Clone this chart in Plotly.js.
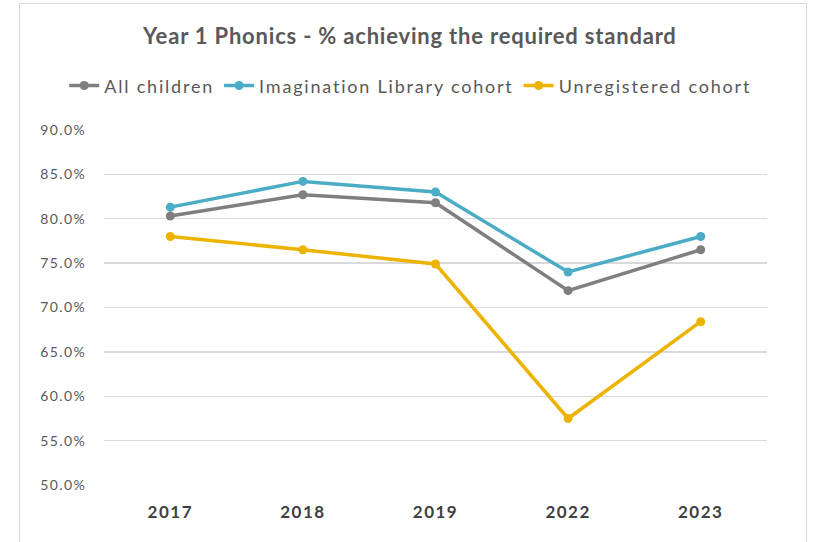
<!DOCTYPE html>
<html>
<head>
<meta charset="utf-8">
<script src="https://cdn.plot.ly/plotly-3.0.1.min.js"></script>
<style>
  html, body { margin: 0; padding: 0; background: #ffffff; overflow: hidden; }
  #chart { position: absolute; left: 19px; top: 3px; width: 786px; height: 545px;
           border: 1px solid #d9d9d9; }
  .legendtext { letter-spacing: 1.8px; }
  .ytick text { letter-spacing: 1.4px; }
  .xtick text { letter-spacing: 1.5px; }
  .gtitle { letter-spacing: 0.8px; }
</style>
</head>
<body>
<div id="chart"></div>
<script>
const years = ['2017', '2018', '2019', '2022', '2023'];
const allChildren = [80.3, 82.7, 81.8, 71.9, 76.5];
const imaginationLibrary = [81.3, 84.2, 83.0, 74.0, 78.0];
const unregistered = [78.0, 76.5, 74.9, 57.5, 68.4];
const yTicks = [50, 55, 60, 65, 70, 75, 80, 85, 90];

const FONT = 'Lato, Calibri, "Open Sans", sans-serif';

function series(name, y, color) {
  return {
    type: 'scatter', mode: 'lines+markers', name: name,
    x: years, y: y,
    line: { color: color, width: 3.5 },
    marker: { color: color, size: 9, symbol: 'circle' },
    hoverinfo: 'skip'
  };
}

const data = [
  series('All children', allChildren, '#7f7f7f'),
  series('Imagination Library cohort', imaginationLibrary, '#4bacc6'),
  series('Unregistered cohort', unregistered, '#ecb400')
];

const layout = {
  width: 786, height: 545,
  margin: { l: 84, r: 39, t: 124.6, b: 62.6, autoexpand: false },
  paper_bgcolor: '#ffffff', plot_bgcolor: '#ffffff',
  font: { family: FONT, color: '#595959' },
  title: {
    text: '<b>Year 1 Phonics - % achieving the required standard</b>',
    font: { family: FONT, size: 22, color: '#595959' },
    x: 0.496, xanchor: 'center', xref: 'container',
    y: 0.941, yanchor: 'middle', yref: 'container'
  },
  showlegend: true,
  legend: {
    orientation: 'h', x: -0.06, xanchor: 'left', xref: 'paper',
    y: 1.121, yanchor: 'middle', yref: 'paper',
    font: { family: FONT, size: 18, color: '#595959' },
    itemwidth: 30, tracegroupgap: 0
  },
  xaxis: {
    type: 'category',
    range: [-0.5, 4.5],
    tickangle: 0,
    showgrid: false, zeroline: false, showline: false,
    ticks: 'outside', ticklen: 11, tickcolor: 'rgba(0,0,0,0)',
    tickfont: { family: FONT, size: 17, color: '#404040', weight: 'bold' }
  },
  yaxis: {
    range: [49.9, 90.1],
    tickvals: yTicks,
    ticktext: yTicks.map(v => v.toFixed(1) + '%'),
    showgrid: true, gridcolor: '#d9d9d9', gridwidth: 1.3,
    zeroline: false, showline: false,
    ticks: 'outside', ticklen: 14, tickcolor: 'rgba(0,0,0,0)',
    tickfont: { family: FONT, size: 14, color: '#595959' }
  }
};

Plotly.newPlot('chart', data, layout, { displayModeBar: false, staticPlot: true });
</script>
</body>
</html>
